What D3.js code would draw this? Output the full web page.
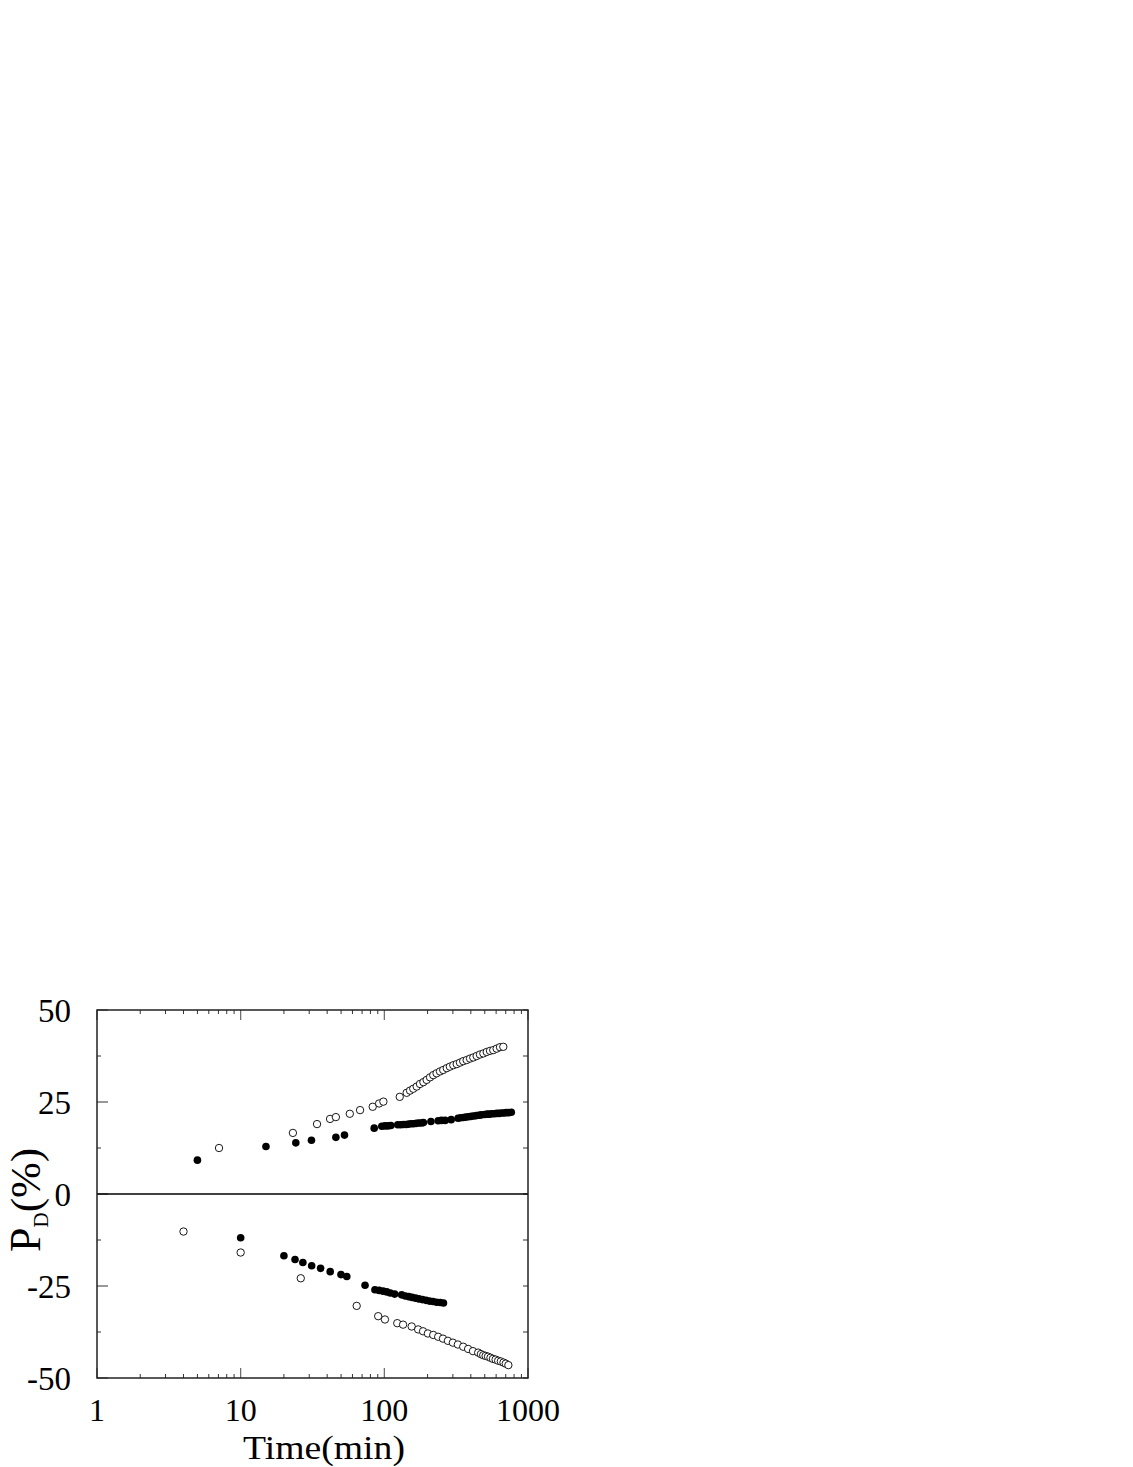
<!DOCTYPE html>
<html>
<head>
<meta charset="utf-8">
<script src="https://cdn.jsdelivr.net/npm/d3@7"></script>
<style>
  html, body { margin: 0; padding: 0; background: #fff; }
  svg { display: block; }
  text { font-family: "Liberation Serif", "Times New Roman", serif; fill: #000; }
</style>
</head>
<body>
<svg id="chart" width="1133" height="1467"></svg>
<script>
// ---- data (time in minutes, P_D in %) ----
const upperOpenT = [7.07, 23.1, 34.0, 41.9, 46.0, 57.5, 67.8, 83, 92, 98.5, 128,
  143, 151, 159, 168, 177, 187, 197, 208, 219, 231, 244, 257, 272, 286, 302, 319, 336, 354,
  374, 395, 416, 439, 463, 489, 516, 544, 573, 605, 638, 673];
const upperOpenY = [12.5, 16.6, 19.0, 20.4, 20.9, 21.8, 22.8, 23.7, 24.6, 25.1, 26.4,
  27.5, 28.1, 28.6, 29.2, 29.9, 30.4, 31.0, 31.7, 32.3, 32.8, 33.3, 33.7, 34.2, 34.6, 35.0, 35.3, 35.7, 36.1,
  36.4, 36.8, 37.1, 37.5, 37.9, 38.2, 38.6, 38.9, 39.1, 39.5, 39.9, 40.0];

const upperFilledT = [5, 15, 24.2, 31.1, 46, 52.8, 85, 96, 101, 106, 111,
  124, 130, 136, 142, 148, 154, 160, 167, 174, 181, 187, 211, 237, 250, 265, 292,
  326, 340, 355, 370, 386, 403, 420, 437, 455, 472,
  500, 520, 540, 560, 582, 605, 630, 655, 680, 705, 735, 765];
const upperFilledY = [9.2, 12.9, 13.9, 14.6, 15.4, 16.0, 17.9, 18.4, 18.5, 18.5, 18.6,
  18.8, 18.8, 18.9, 18.9, 19.0, 19.1, 19.1, 19.2, 19.3, 19.3, 19.4, 19.7, 19.9, 20.0, 20.0, 20.2,
  20.6, 20.7, 20.8, 20.9, 21.0, 21.1, 21.2, 21.3, 21.4, 21.5,
  21.6, 21.7, 21.7, 21.8, 21.8, 21.9, 21.9, 22.0, 22.0, 22.1, 22.1, 22.2];

const lowerFilledT = [10, 20, 23.9, 27.1, 31.2, 36, 42, 49.9, 54.8, 73.4, 86, 92, 98, 104, 110, 118,
  132, 140, 148, 156, 165, 174, 184, 195, 206, 218, 231, 245, 258];
const lowerFilledY = [-11.9, -16.8, -17.8, -18.6, -19.5, -20.2, -21.1, -21.9, -22.4, -24.8, -26.0, -26.2, -26.4, -26.6, -26.9, -27.2,
  -27.4, -27.7, -27.9, -28.1, -28.3, -28.5, -28.7, -28.9, -29.1, -29.2, -29.4, -29.5, -29.6];

const lowerOpenT = [4, 10, 26.2, 64.2, 90.6, 101, 123, 135, 155, 172, 186, 201, 219, 237, 256, 277, 300,
  325, 354, 383, 414, 450, 470, 488, 507, 527, 548, 570, 595, 620, 647, 675, 700, 730];
const lowerOpenY = [-10.2, -15.9, -22.9, -30.4, -33.2, -34.1, -35.1, -35.5, -36.0, -36.8, -37.3, -37.9, -38.3, -38.8, -39.3, -39.9, -40.4,
  -40.9, -41.5, -42.1, -42.7, -43.1, -43.5, -43.8, -44.0, -44.2, -44.5, -44.8, -45.0, -45.3, -45.5, -45.8, -46.1, -46.5];

const xTickLabels = [1, 10, 100, 1000];
const xMinorDecades = [1, 10, 100];
const xMinorMult = [2, 3, 4, 5, 6, 7, 8, 9];
const yTickLabels = [50, 25, 0, -25, -50];
const yMinorTicks = [37.5, 12.5, -12.5, -37.5];

// ---- layout ----
const L = 97, R = 528, T = 1010, B = 1378;
const svg = d3.select("#chart");
svg.append("rect").attr("width", 1133).attr("height", 1467).attr("fill", "#fff");

const x = d3.scaleLog().domain([1, 1000]).range([L, R]);
const y = d3.scaleLinear().domain([-50, 50]).range([B, T]);

const g = svg.append("g");

// minor x ticks (top & bottom)
const xMinor = [];
xMinorDecades.forEach(d => xMinorMult.forEach(m => xMinor.push(d * m)));
const tickColor = "#333";
xMinor.forEach(v => {
  g.append("line").attr("x1", x(v)).attr("x2", x(v)).attr("y1", B).attr("y2", B - 4)
    .attr("stroke", tickColor).attr("stroke-width", 1);
  g.append("line").attr("x1", x(v)).attr("x2", x(v)).attr("y1", T).attr("y2", T + 4)
    .attr("stroke", tickColor).attr("stroke-width", 1);
});
// major x ticks
xTickLabels.forEach(v => {
  g.append("line").attr("x1", x(v)).attr("x2", x(v)).attr("y1", B).attr("y2", B - 10)
    .attr("stroke", "#666").attr("stroke-width", 1.2);
  g.append("line").attr("x1", x(v)).attr("x2", x(v)).attr("y1", T).attr("y2", T + 10)
    .attr("stroke", "#666").attr("stroke-width", 1.2);
});
// y ticks left
yTickLabels.forEach(v => {
  g.append("line").attr("x1", L).attr("x2", L + 11).attr("y1", y(v)).attr("y2", y(v))
    .attr("stroke", tickColor).attr("stroke-width", 1);
});
yMinorTicks.forEach(v => {
  g.append("line").attr("x1", L).attr("x2", L + 4).attr("y1", y(v)).attr("y2", y(v))
    .attr("stroke", tickColor).attr("stroke-width", 1);
});
// y ticks right
yTickLabels.concat(yMinorTicks).forEach(v => {
  g.append("line").attr("x1", R).attr("x2", R - 5).attr("y1", y(v)).attr("y2", y(v))
    .attr("stroke", tickColor).attr("stroke-width", 1);
});

// zero line
g.append("line").attr("x1", L).attr("x2", R).attr("y1", y(0)).attr("y2", y(0))
  .attr("stroke", "#000").attr("stroke-width", 1.3);

// frame
g.append("rect").attr("x", L).attr("y", T).attr("width", R - L).attr("height", B - T)
  .attr("fill", "none").attr("stroke", "#222").attr("stroke-width", 1.5);

// tick labels
yTickLabels.forEach(v => {
  svg.append("text").attr("x", 71).attr("y", y(v)).attr("dy", "0.36em")
    .attr("text-anchor", "end").attr("font-size", 33).text(v);
});
xTickLabels.forEach(v => {
  svg.append("text").attr("x", x(v)).attr("y", 1421)
    .attr("text-anchor", "middle").attr("font-size", 32).text(v);
});

// axis titles
svg.append("text").attr("x", 243).attr("y", 1459).attr("text-anchor", "start")
  .attr("font-size", 34).attr("textLength", 162).attr("lengthAdjust", "spacingAndGlyphs")
  .text("Time(min)");

const yl = svg.append("text").attr("transform", "translate(40,1252) rotate(-90)")
  .attr("text-anchor", "start");
yl.append("tspan").attr("font-size", 44).text("P");
yl.append("tspan").attr("font-size", 21).attr("dy", 8).text("D");
yl.append("tspan").attr("font-size", 43).attr("dy", -8).text("(%)");

// points
function pts(ts, ys) { return ts.map((t, i) => ({ t: t, v: ys[i] })); }
function drawOpen(data) {
  g.selectAll(null).data(data).enter().append("circle")
    .attr("cx", d => x(d.t)).attr("cy", d => y(d.v)).attr("r", 3.7)
    .attr("fill", "#fff").attr("stroke", "#000").attr("stroke-width", 0.9);
}
function drawFilled(data) {
  g.selectAll(null).data(data).enter().append("circle")
    .attr("cx", d => x(d.t)).attr("cy", d => y(d.v)).attr("r", 3.8)
    .attr("fill", "#000");
}
drawOpen(pts(upperOpenT, upperOpenY));
drawFilled(pts(upperFilledT, upperFilledY));
drawFilled(pts(lowerFilledT, lowerFilledY));
drawOpen(pts(lowerOpenT, lowerOpenY));
</script>
</body>
</html>
